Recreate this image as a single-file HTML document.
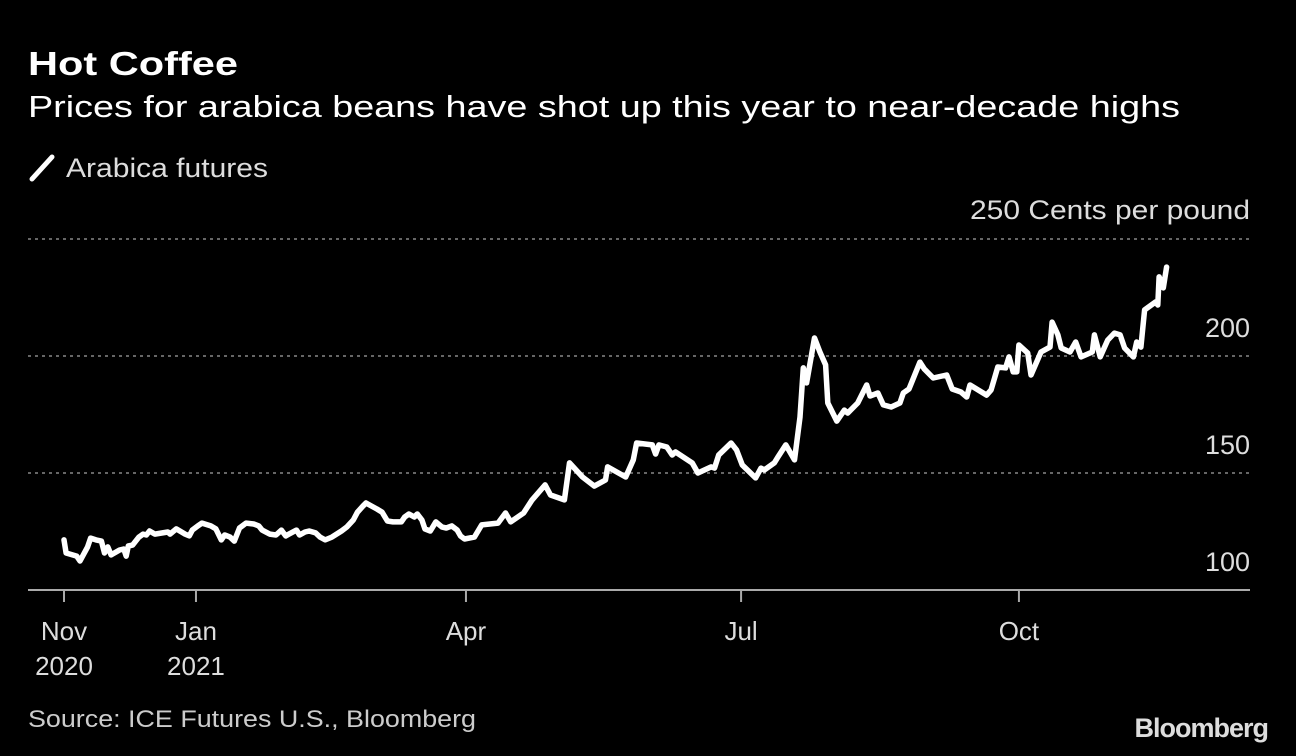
<!DOCTYPE html>
<html><head><meta charset="utf-8"><style>
html,body{margin:0;padding:0;background:#000;}
svg{display:block;font-family:"Liberation Sans",sans-serif;}
</style></head><body>
<svg id="chart" width="1296" height="756" viewBox="0 0 1296 756">
<rect width="1296" height="756" fill="#000"/>
<text x="28" y="75" fill="#fff" font-size="33" font-weight="bold" textLength="210" lengthAdjust="spacingAndGlyphs">Hot Coffee</text>
<text x="28" y="117" fill="#fff" font-size="31" textLength="1152" lengthAdjust="spacingAndGlyphs">Prices for arabica beans have shot up this year to near-decade highs</text>
<line x1="32" y1="179" x2="52" y2="157" stroke="#fff" stroke-width="5" stroke-linecap="round"/>
<text x="66" y="177" fill="#ddd" font-size="27" textLength="202" lengthAdjust="spacingAndGlyphs">Arabica futures</text>
<text x="1250" y="219" fill="#ddd" font-size="27" text-anchor="end" textLength="280" lengthAdjust="spacingAndGlyphs">250 Cents per pound</text>
<g id="grid"></g>
<g id="xaxis"></g>
<path id="line" fill="none" stroke="#fff" stroke-width="5.5" stroke-linejoin="round" stroke-linecap="round"/>
<text x="28" y="727" fill="#ccc" font-size="24" textLength="448" lengthAdjust="spacingAndGlyphs">Source: ICE Futures U.S., Bloomberg</text>
<text x="1268" y="737" fill="#ddd" font-size="27" font-weight="bold" text-anchor="end" letter-spacing="-1">Bloomberg</text>
</svg>
<script>
const days=[0,0.7,4.2,5.3,7.8,8.8,10.6,12.4,13.4,14.5,15.6,18.4,19.8,20.6,21.3,22.7,24.8,26.2,27.3,28.3,30.1,32.6,34.4,35.1,37.2,40.1,41.5,42.5,44.3,45.7,48.6,50.3,52.1,53.2,55,56.4,58.1,60.3,62.8,64.5,65.6,68.1,70.2,72,73.4,74.5,77,78,79.8,81.2,83.3,84.8,86.5,88.7,91.9,93.6,95.8,97.2,99,100,101.8,103.6,105.3,107.1,108.9,111.7,112.8,114.2,116,117,118.5,119.5,121.3,123.1,125.2,126.6,128.4,130.2,131.3,132.6,135.9,138.3,143.7,146.2,147.9,152.2,155,159.3,161.1,165.7,167.4,171.7,175.6,179.3,180,186,188.5,189.6,194.8,195.9,197,199.6,201.4,202.5,208,209.9,214.3,215.4,216.8,220.9,222.7,224.6,229,230.8,231.9,235.2,236.4,239,241.9,243.7,244.8,245.9,248.5,250.3,252.2,252.9,255.9,258.4,259.5,262.8,265.8,266.9,269.5,271.3,273.9,276.8,277.9,279.8,283.4,284.9,287.8,292.3,294.1,297,298.9,300,305.5,307,309.2,311.8,312.9,314.3,315.5,316.2,319.1,320.2,323.5,326.5,327.2,329.1,330.2,333.1,335,336.8,340.5,341.2,343.1,345.6,347.8,349.7,351.2,354.1,355.2,356.6,357.8,361.5,362.2,362.6,364,365.1];
const prices=[121.4,115.8,114.5,112.4,118.4,122.2,121.4,120.9,115.8,118.4,115,117.1,117.5,114.5,118.8,119.2,122.6,123.9,123.5,125.2,123.9,124.4,124.8,123.9,126.1,123.9,123.1,125.6,127.4,128.6,127.4,126.1,121.4,123.5,122.6,120.9,126.5,128.6,128.2,127.4,125.6,123.9,123.5,125.6,123.1,123.9,125.6,123.5,124.8,125.2,124.4,122.6,121.4,122.6,125.2,126.9,129.9,133.3,135.9,137.2,135.9,134.6,133.3,129.5,129.1,129.1,131.2,132.5,131.2,132.5,129.9,126.1,125.2,129.1,126.9,126.5,127.4,125.6,123.1,121.8,122.6,127.8,128.6,132.9,129.1,132.9,138.5,144.9,140.6,138.5,154.3,148.3,144.4,147,152.6,148.3,155.6,162.8,162,158.1,162,161.1,157.7,159,154.3,150,152.6,152.1,157.7,162.8,159.8,153.4,147.9,152.1,151.3,154.3,156.8,162,155.6,173.9,194.9,188.5,207.7,201.7,196.2,179.9,172.2,176.9,175.6,179.9,187.6,182.9,184.2,179.1,178.2,179.9,184.2,185.9,197.4,194.4,190.6,191.9,185.9,184.6,182.5,187.6,183.3,185.5,195.3,194.9,199.6,193.2,193.2,204.7,201.3,191.9,201.7,203.8,214.5,209,203.4,201.7,206,199.6,201.7,209,199.6,206.8,209.8,209,203.4,199.6,206,203.8,219.7,223.1,221.8,233.8,229.1,238];
const tickDays=[0,43.7,133.1,224.2,316.2];
const tickMonths=["Nov","Jan","Apr","Jul","Oct"];
const tickYears=["2020","2021","","",""];
const yTicks=[100,150,200,250];
const yLabels=["100","150","200",""];

const x=d=>64+d*3.02;
const y=v=>590-(v-100)*2.34;
const NS="http://www.w3.org/2000/svg";
function mk(tag,attrs,parent){const e=document.createElementNS(NS,tag);for(const k in attrs)e.setAttribute(k,attrs[k]);parent.appendChild(e);return e;}
const grid=document.getElementById('grid');
yTicks.forEach((t,i)=>{
  if(t!==100){
    const g=mk('line',{x1:28,x2:1250,y1:y(t),y2:y(t),stroke:'#888','stroke-width':1.5,'stroke-dasharray':'3,4'},grid);
    
    
  }
  if(yLabels[i]){
    const l=mk('text',{x:1250,y:y(t)-19,fill:'#ddd','font-size':27,'text-anchor':'end'},grid);
    l.textContent=yLabels[i];
    
    
  }
});
const xa=document.getElementById('xaxis');
const ax=mk('line',{x1:28,x2:1250,y1:590,y2:590,stroke:'#aaa','stroke-width':2},xa);


tickDays.forEach((d,i)=>{
  const t=mk('line',{x1:x(d),x2:x(d),y1:590,y2:602,stroke:'#aaa','stroke-width':2},xa);
  
  
  const m=mk('text',{x:x(d),y:640,fill:'#ddd','font-size':26,'text-anchor':'middle'},xa);
  m.textContent=tickMonths[i];
  
  
  if(tickYears[i]){
    const yr=mk('text',{x:x(d),y:675,fill:'#ddd','font-size':26,'text-anchor':'middle'},xa);
    yr.textContent=tickYears[i];
    
    
  }
});
document.getElementById('line').setAttribute('d',days.map((d,i)=>(i?'L':'M')+x(d).toFixed(1)+','+y(prices[i]).toFixed(1)).join(' '));
</script>
</body></html>
